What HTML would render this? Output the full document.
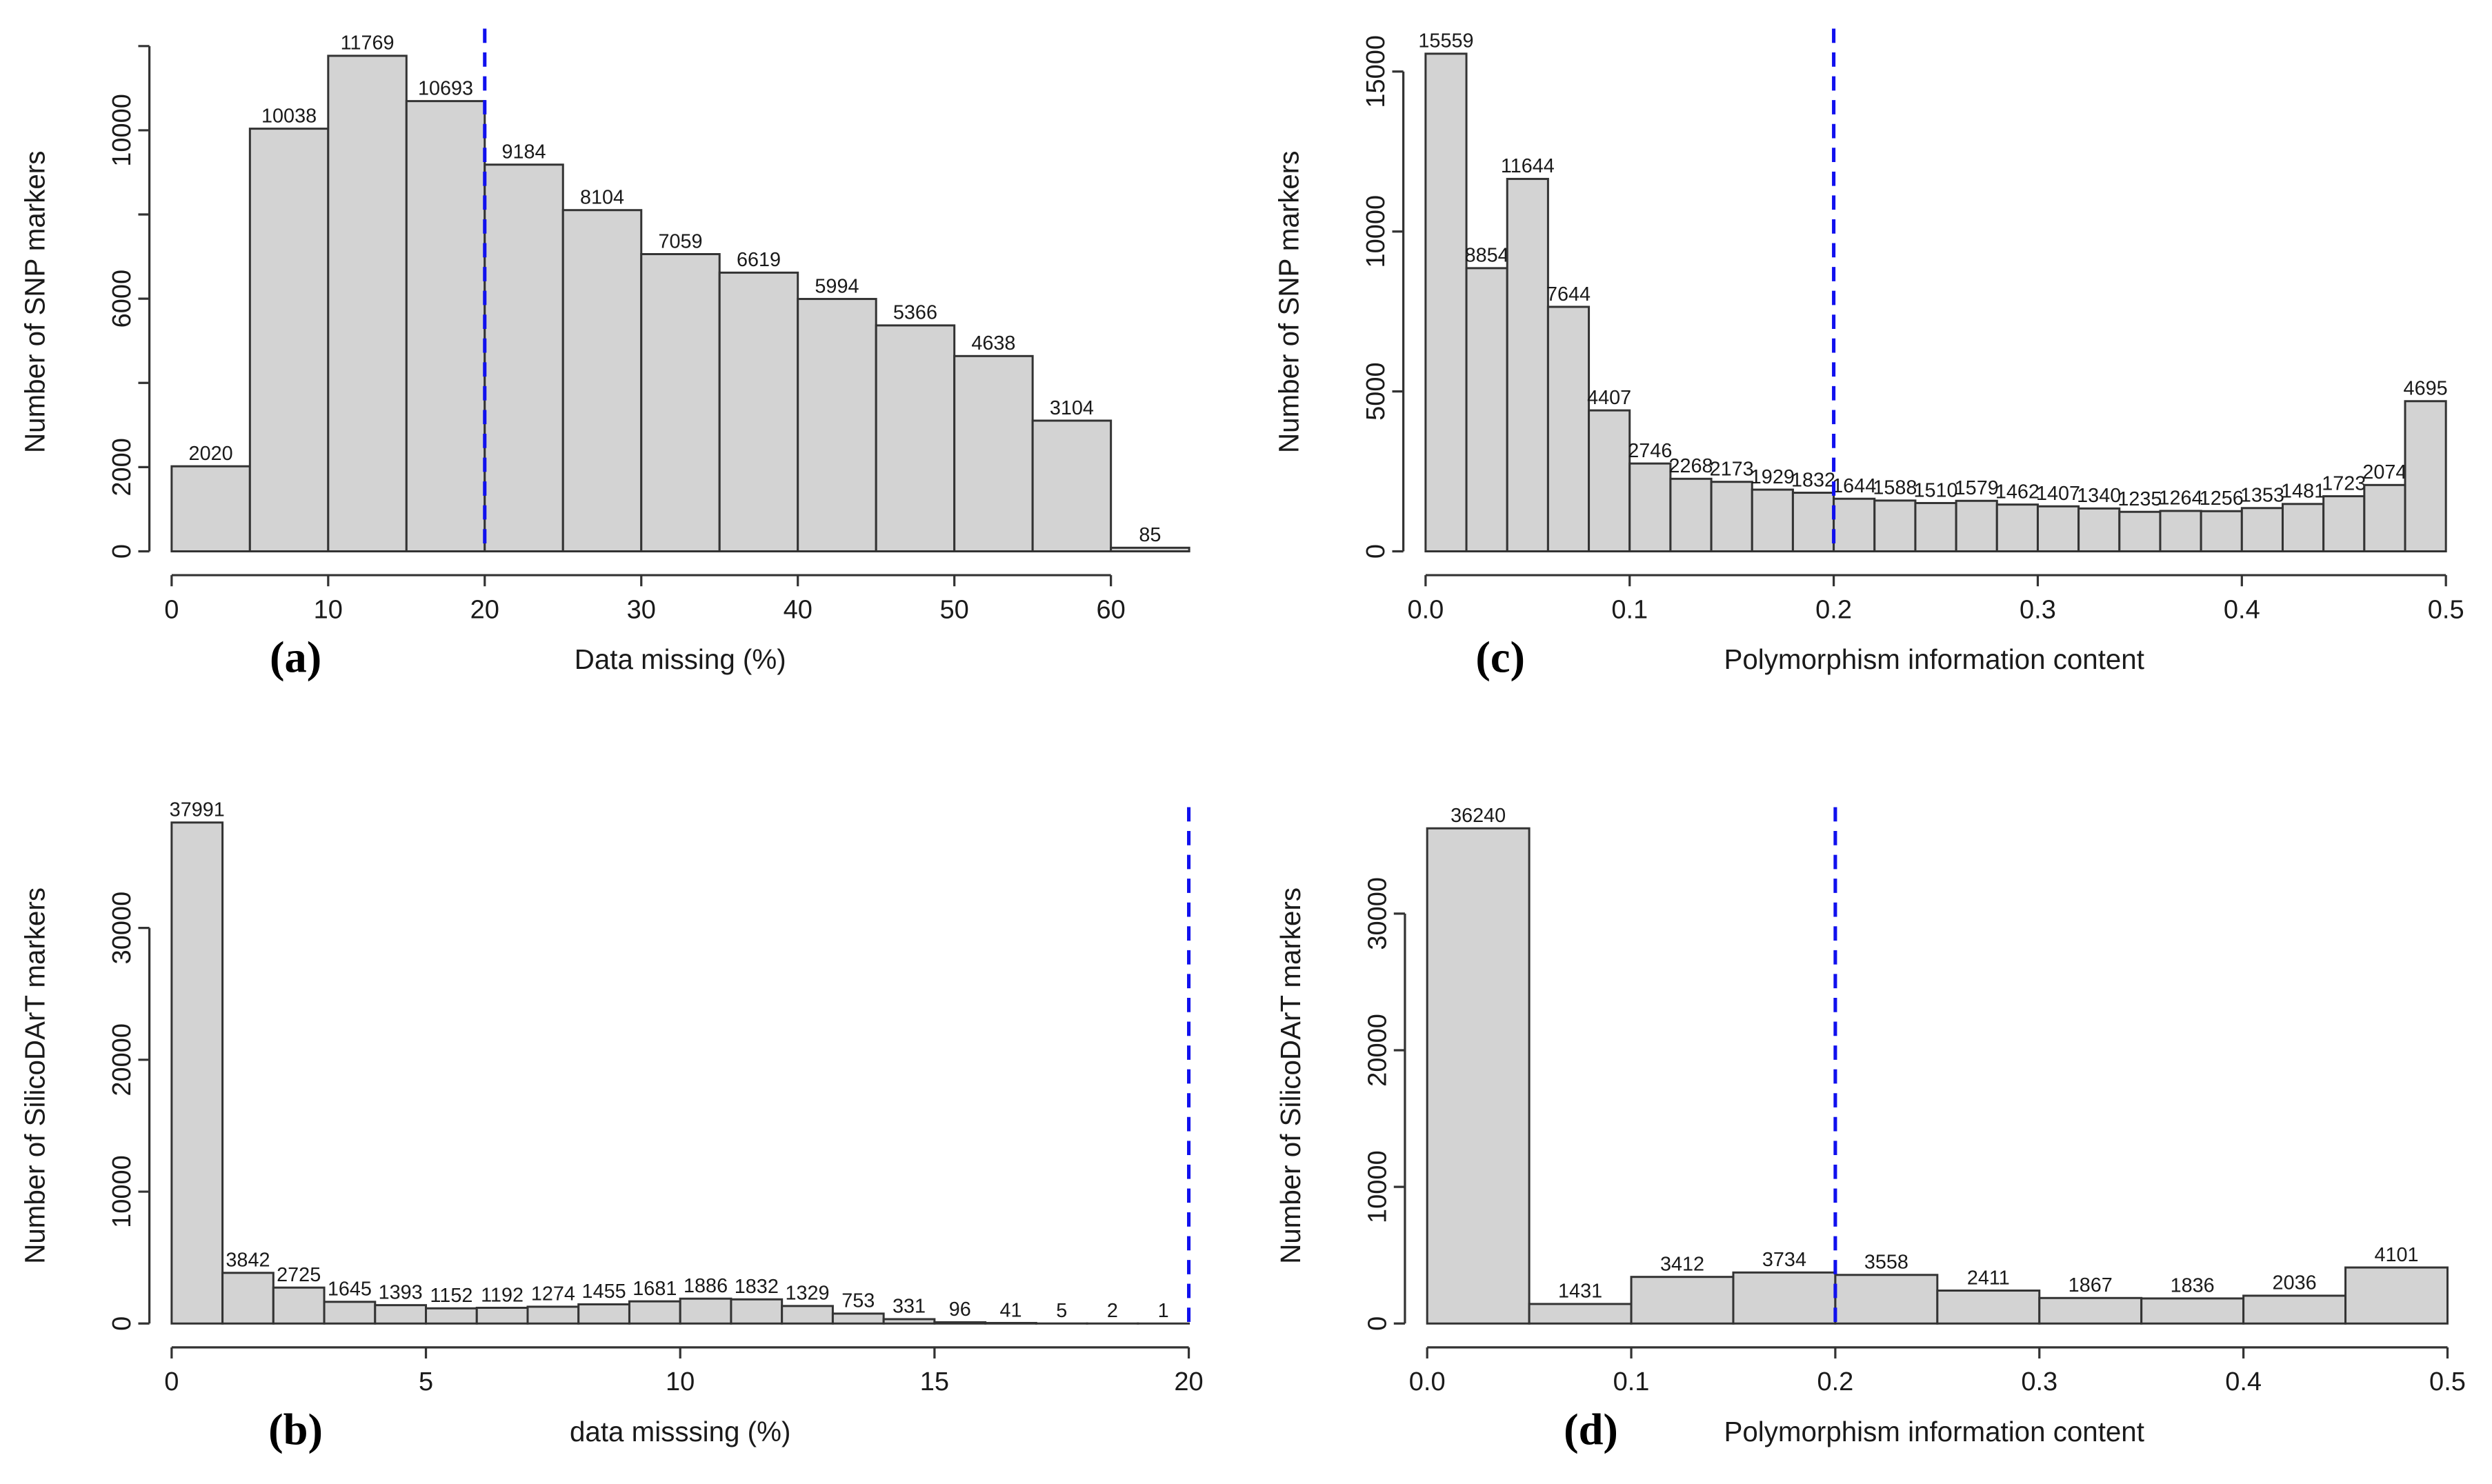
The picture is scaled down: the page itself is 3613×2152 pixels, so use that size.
<!DOCTYPE html>
<html><head><meta charset="utf-8"><style>
html,body{margin:0;padding:0;background:#fff;}
svg{display:block;}
text{font-family:"Liberation Sans",sans-serif;fill:#1a1a1a;}
</style></head><body>
<svg id="fig" width="3613" height="2152" viewBox="0 0 1568 934" preserveAspectRatio="none" xmlns="http://www.w3.org/2000/svg"></svg>
<script>
// Panel (a)
const aValues = [2020,10038,11769,10693,9184,8104,7059,6619,5994,5366,4638,3104,85];
const aXTicks = [0,10,20,30,40,50,60];
const aYTicks = [0,2000,4000,6000,8000,10000,12000];
const aYLabels = ["0","2000","","6000","","10000",""];
// Panel (c)
const cValues = [15559,8854,11644,7644,4407,2746,2268,2173,1929,1832,1644,1588,1510,1579,1462,1407,1340,1235,1264,1256,1353,1481,1723,2074,4695];
const cXTicks = [0,0.1,0.2,0.3,0.4,0.5];
const cYTicks = [0,5000,10000,15000];
// Panel (b)
const bValues = [37991,3842,2725,1645,1393,1152,1192,1274,1455,1681,1886,1832,1329,753,331,96,41,5,2,1];
const bXTicks = [0,5,10,15,20];
const bYTicks = [0,10000,20000,30000];
// Panel (d)
const dValues = [36240,1431,3412,3734,3558,2411,1867,1836,2036,4101];
const dXTicks = [0,0.1,0.2,0.3,0.4,0.5];
const dYTicks = [0,10000,20000,30000];

const svg = document.getElementById('fig');
const NS = 'http://www.w3.org/2000/svg';
function mk(tag, attrs, parent){
  const e = document.createElementNS(NS, tag);
  for (const k in attrs) e.setAttribute(k, attrs[k]);
  (parent||svg).appendChild(e);
  return e;
}

function panel(p){
  const g = mk('g', {});
  
  
  const xs = v => p.x0 + (v - p.xmin) / (p.xmax - p.xmin) * (p.x1 - p.x0);
  const ys = v => p.y0 - v * p.ky;
  p.values.forEach((v, i) => {
    const l = xs(p.xmin + i * p.bw), r = xs(p.xmin + (i + 1) * p.bw);
    const rect = mk('rect', {x: l, y: ys(v), width: r - l, height: p.y0 - ys(v), fill: '#d3d3d3', stroke: '#333', 'stroke-width': 1.3}, g);
    
    
    const t = mk('text', {x: (l + r) / 2, y: ys(v) - 4, 'font-size': 12.5, 'text-anchor': 'middle'}, g);
    t.textContent = v;
    
    
  });
  const dl = mk('line', {x1: xs(p.thr), x2: xs(p.thr), y1: p.dashTop, y2: p.y0, stroke: '#1010ee', 'stroke-width': 2.2, 'stroke-dasharray': '9,6'}, g);
  
  
  const ax = p.y0 + 15;
  const xa = mk('line', {x1: xs(p.xTicks[0]), x2: xs(p.xTicks[p.xTicks.length - 1]), y1: ax, y2: ax, stroke: '#333', 'stroke-width': 1.4}, g);
  
  
  p.xTicks.forEach(v => {
    mk('line', {x1: xs(v), x2: xs(v), y1: ax, y2: ax + 7, stroke: '#333', 'stroke-width': 1.4}, g);
    const t = mk('text', {x: xs(v), y: ax + 27, 'font-size': 16.5, 'text-anchor': 'middle'}, g);
    t.textContent = p.xFmt ? v.toFixed(1) : v;
    
    
  });
  const yx = p.x0 - 14;
  const yT = p.yTicks;
  const ya = mk('line', {x1: yx, x2: yx, y1: ys(yT[0]), y2: ys(yT[yT.length - 1]), stroke: '#333', 'stroke-width': 1.4}, g);
  
  
  yT.forEach((v, i) => {
    mk('line', {x1: yx - 7, x2: yx, y1: ys(v), y2: ys(v), stroke: '#333', 'stroke-width': 1.4}, g);
    const lab = p.yLabels ? p.yLabels[i] : String(v);
    if (lab) {
      const t = mk('text', {x: 0, y: 0, 'font-size': 16.5, 'text-anchor': 'middle', transform: 'translate(' + (yx - 12) + ',' + ys(v) + ') rotate(-90)'}, g);
      t.textContent = lab;
      
      
    }
  });
  const xt = mk('text', {x: p.xtX, y: p.y0 + 74, 'font-size': 17.5, 'text-anchor': 'middle'}, g);
  xt.textContent = p.xTitle;
  
  
  const yt = mk('text', {x: 0, y: 0, 'font-size': 17.5, 'text-anchor': 'middle', transform: 'translate(' + (p.x0 - 80) + ',' + p.ytY + ') rotate(-90)'}, g);
  yt.textContent = p.yTitle;
  
  
  const pl = mk('text', {x: p.plX, y: p.y0 + 76, 'font-size': 28, 'text-anchor': 'middle', style: 'font-family:"Liberation Serif",serif;fill:#000;font-weight:bold'}, g);
  pl.textContent = '(' + p.id + ')';
  
  
}

panel({id:'a', values:aValues, xmin:0, xmax:60, bw:5, x0:108, x1:699, y0:347, ky:0.0265,
  xTicks:aXTicks, yTicks:aYTicks, yLabels:aYLabels, thr:20, dashTop:18,
  xTitle:'Data missing (%)', yTitle:'Number of SNP markers', xtX:428, ytY:190, plX:186});
panel({id:'c', values:cValues, xmin:0, xmax:0.5, bw:0.02, x0:897, x1:1539, y0:347, ky:0.02013,
  xTicks:cXTicks, yTicks:cYTicks, xFmt:true, thr:0.2, dashTop:18,
  xTitle:'Polymorphism information content', yTitle:'Number of SNP markers', xtX:1217, ytY:190, plX:944});
panel({id:'b', values:bValues, xmin:0, xmax:20, bw:1, x0:108, x1:748, y0:833, ky:0.0083,
  xTicks:bXTicks, yTicks:bYTicks, thr:20, dashTop:508,
  xTitle:'data misssing (%)', yTitle:'Number of SilicoDArT markers', xtX:428, ytY:677, plX:186});
panel({id:'d', values:dValues, xmin:0, xmax:0.5, bw:0.05, x0:898, x1:1540, y0:833, ky:0.0086,
  xTicks:dXTicks, yTicks:dYTicks, xFmt:true, thr:0.2, dashTop:508,
  xTitle:'Polymorphism information content', yTitle:'Number of SilicoDArT markers', xtX:1217, ytY:677, plX:1001});
</script>
</body></html>
